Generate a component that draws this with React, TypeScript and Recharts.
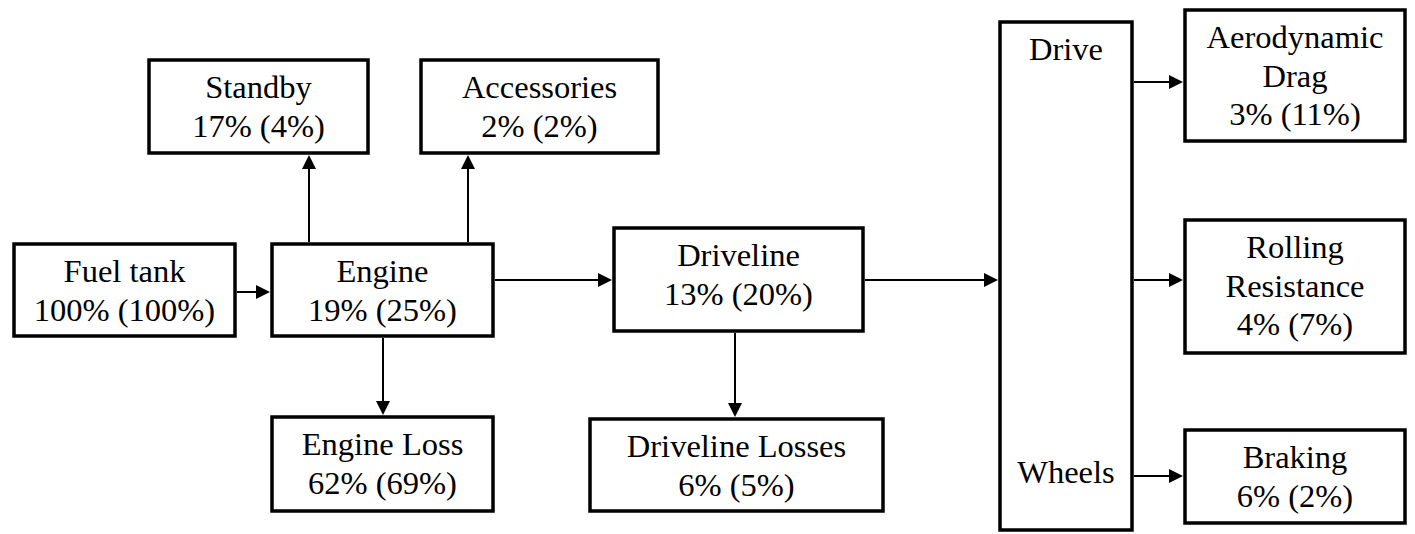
import React from "react";
import { ComposedChart, XAxis, YAxis, ReferenceArea, ReferenceLine } from "recharts";

if (typeof document !== "undefined") {
  document.body.style.margin = "0";
}

// ---- content ----
const nodeTitles: string[][] = [
  ["Fuel tank"],
  ["Engine"],
  ["Standby"],
  ["Accessories"],
  ["Engine Loss"],
  ["Driveline"],
  ["Driveline Losses"],
  ["Drive", "Wheels"],
  ["Aerodynamic", "Drag"],
  ["Rolling", "Resistance"],
  ["Braking"],
];
const shareA: (number | null)[] = [100, 19, 17, 2, 62, 13, 6, null, 3, 4, 6];
const shareB: (number | null)[] = [100, 25, 4, 2, 69, 20, 5, null, 11, 7, 2];

// flows: [from, to]
const flows: [number, number][] = [
  [0, 1],
  [1, 2],
  [1, 3],
  [1, 4],
  [1, 5],
  [5, 6],
  [5, 7],
  [7, 8],
  [7, 9],
  [7, 10],
];

// ---- layout (diagram units) ----
const boxX1 = [14, 272, 149, 421, 272, 614, 590, 1000, 1185, 1185, 1185];
const boxX2 = [235, 493, 368, 658, 493, 863, 883, 1132, 1405, 1405, 1405];
const boxY1 = [244, 244, 60, 60, 417, 228, 419, 22, 10, 220, 430];
const boxY2 = [336, 336, 153, 153, 511, 331, 511, 530, 141, 353, 523];

const flowStart: [number, number][] = [
  [237, 292],
  [309, 242],
  [468, 242],
  [383, 338],
  [495, 280],
  [735, 333],
  [865, 280],
  [1134, 82],
  [1134, 280],
  [1134, 476],
];
const flowEnd: [number, number][] = [
  [270, 292],
  [309, 155],
  [468, 155],
  [383, 415],
  [612, 280],
  [735, 417],
  [998, 280],
  [1183, 82],
  [1183, 280],
  [1183, 476],
];

const W = 1415;
const H = 534;
const FONT = "'Liberation Serif', 'Times New Roman', Times, serif";
const FS = 32.5;
const LH = 38.5;

function nodeLines(i: number): string[] {
  const t = nodeTitles[i].slice();
  if (shareA[i] !== null) t.push(`${shareA[i]}% (${shareB[i]}%)`);
  return t;
}

function makeLabel(i: number) {
  return (props: any) => {
    const vb = props.viewBox || {};
    const cx = vb.x + vb.width / 2;
    const top = vb.y;
    const bottom = vb.y + vb.height;
    const lines = nodeLines(i);
    const split = shareA[i] === null;
    return (
      <text
        textAnchor="middle"
        style={{ fontFamily: FONT, fontSize: FS }}
        fill="#000"
      >
        {lines.map((l, k) => {
          let y = top + 38 + k * LH;
          if (split && k === lines.length - 1 && k > 0) y = bottom - 47;
          return (
            <tspan key={k} x={cx} y={y}>
              {l}
            </tspan>
          );
        })}
      </text>
    );
  };
}

const Arrow = (props: any) => {
  const { x1, y1, x2, y2 } = props;
  const dx = x2 - x1;
  const dy = y2 - y1;
  const len = Math.sqrt(dx * dx + dy * dy) || 1;
  const ux = dx / len;
  const uy = dy / len;
  const hl = 14;
  const hw = 7;
  const bx = x2 - ux * hl;
  const by = y2 - uy * hl;
  const px = -uy;
  const py = ux;
  return (
    <g>
      <line x1={x1} y1={y1} x2={bx} y2={by} stroke="#000" strokeWidth={2} />
      <polygon
        points={`${x2},${y2} ${bx + px * hw},${by + py * hw} ${bx - px * hw},${by - py * hw}`}
        fill="#000"
      />
    </g>
  );
};

export default function App() {
  return (
    <div style={{ width: W, height: H, background: "#fff", fontFamily: FONT }}>
      <ComposedChart width={W} height={H} margin={{ top: 0, right: 0, bottom: 0, left: 0 }} data={[{ x: 0, y: 0 }]}>
        <XAxis type="number" dataKey="x" domain={[0, W]} hide allowDataOverflow />
        <YAxis type="number" dataKey="y" domain={[0, H]} reversed hide allowDataOverflow />
        {nodeTitles.map((_, i) => (
          <ReferenceArea
            key={`box-${i}`}
            x1={boxX1[i]}
            x2={boxX2[i]}
            y1={boxY1[i]}
            y2={boxY2[i]}
            fill="#fff"
            fillOpacity={1}
            stroke="#000"
            strokeWidth={3.5}
            ifOverflow="visible"
            label={makeLabel(i)}
          />
        ))}
        {flows.map((f, k) => (
          <ReferenceLine
            key={`flow-${f[0]}-${f[1]}`}
            segment={[
              { x: flowStart[k][0], y: flowStart[k][1] },
              { x: flowEnd[k][0], y: flowEnd[k][1] },
            ]}
            ifOverflow="visible"
            shape={Arrow}
          />
        ))}
      </ComposedChart>
    </div>
  );
}
